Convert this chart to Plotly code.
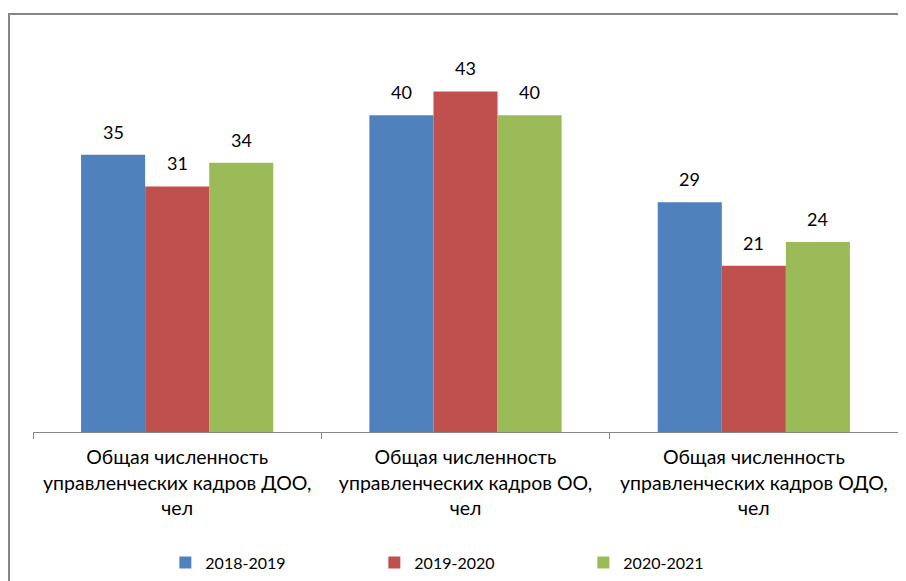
import plotly.graph_objects as go

categories = [
    "Общая численность<br>управленческих кадров ДОО,<br>чел",
    "Общая численность<br>управленческих кадров ОО,<br>чел",
    "Общая численность<br>управленческих кадров ОДО,<br>чел",
]
series_names = ["2018-2019", "2019-2020", "2020-2021"]
values_2018 = [35, 40, 29]
values_2019 = [31, 43, 21]
values_2020 = [34, 40, 24]
colors = ["#4F81BD", "#C0504D", "#9BBB59"]

all_values = [values_2018, values_2019, values_2020]
FONT = "Lato, 'Liberation Sans', sans-serif"

fig = go.Figure()
for name, vals, col in zip(series_names, all_values, colors):
    fig.add_trace(go.Bar(
        name=name, x=categories, y=vals,
        marker=dict(color=col, line=dict(width=0)),
    ))

annotations = []
n = len(series_names)
bar_w = (1 - 1/3) / n
for j, vals in enumerate(all_values):
    for i, v in enumerate(vals):
        annotations.append(dict(
            x=i + (j - (n - 1) / 2) * bar_w, y=v, xref="x", yref="y",
            text=str(v), showarrow=False, yanchor="bottom", yshift=10,
            font=dict(family=FONT, size=18, color="#000000"),
        ))

# page has an 8px body margin; plot area targets page x 33..898, y 36..432
W, H = 906, 581
L, R, T, B = 25, 16, 28, 157
pw, ph = W - L - R, H - T - B

fig.update_layout(
    width=W, height=H,
    margin=dict(l=L, r=R, t=T, b=B, autoexpand=False),
    paper_bgcolor="white", plot_bgcolor="white",
    barmode="group", bargap=1/3, bargroupgap=0,
    font=dict(family=FONT, size=18, color="#000000"),
    showlegend=True,
    legend=dict(
        orientation="h", x=0.153, xanchor="left", y=-0.33, yanchor="middle",
        font=dict(family=FONT, size=16, color="#000000"),
        entrywidth=164, entrywidthmode="pixels",
    ),
    annotations=annotations,
    shapes=[dict(
        type="rect", xref="paper", yref="paper",
        x0=(1 - L) / pw, x1=(W + 20 - L) / pw,
        y0=-(B + 20) / ph, y1=(H - B - 6) / ph,
        line=dict(color="#868686", width=2), fillcolor="rgba(0,0,0,0)",
        layer="below",
    )],
)
fig.update_xaxes(
    type="category", showline=True, linecolor="#868686", linewidth=1,
    ticks="outside", tickson="boundaries", ticklen=6, tickcolor="#868686",
    tickfont=dict(family=FONT, size=19.5, color="#000000"),
    ticklabelstandoff=8,
    showgrid=False, automargin=False,
)
fig.update_yaxes(
    range=[0, 50], visible=False, showgrid=False, zeroline=False,
    automargin=False,
)

fig.write_html("out.html")
